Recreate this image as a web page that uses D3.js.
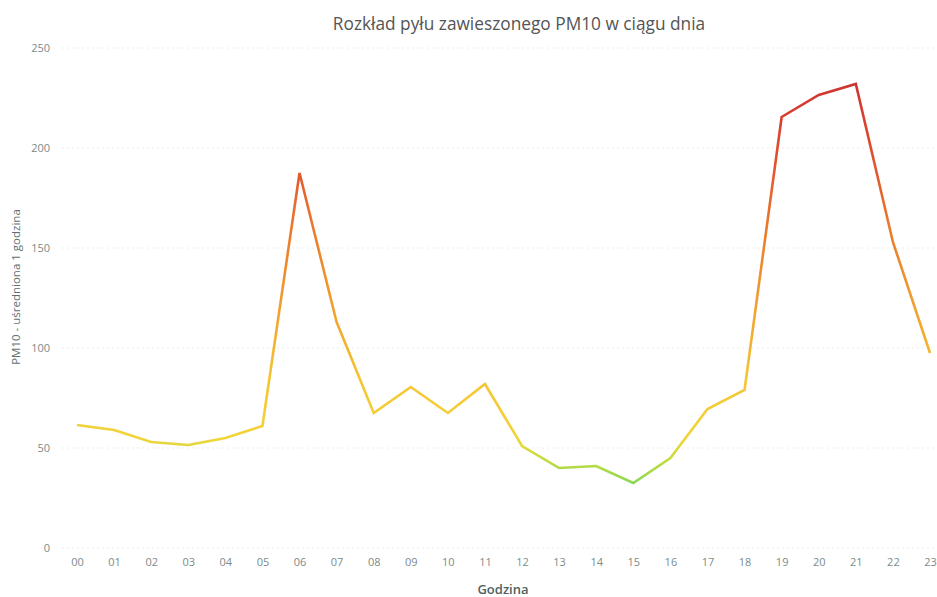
<!DOCTYPE html>
<html>
<head>
<meta charset="utf-8">
<script src="https://cdn.jsdelivr.net/npm/d3@7"></script>
<style>
    body { margin: 0; background: #fff; }
    text { font-family: "Open Sans", "Noto Sans", sans-serif; }
</style>
</head>
<body>
<div id="chart"></div>
<script>
// dane: godziny i średnie 1h PM10
var hours = ["00", "01", "02", "03", "04", "05", "06", "07", "08", "09", "10", "11",
             "12", "13", "14", "15", "16", "17", "18", "19", "20", "21", "22", "23"];
var pm10 = [61.5, 59, 53, 51.5, 55, 61, 187.5, 113, 67.5, 80.5, 67.5, 82,
            51, 40, 41, 32.5, 45, 69.5, 79, 215.5, 226.5, 232, 153, 97.5];
var yTicks = [0, 50, 100, 150, 200, 250];
// kolor linii zależny od wartości
var colorValues = [30, 45, 55, 85, 120, 160, 195, 235];
var colorList = ["#7fd65a", "#c8dc3c", "#f2d43a", "#f5c432", "#f0a030", "#ea7a2e", "#e0502e", "#cc3232"];

var width = 937, height = 597;

var svg = d3.select("#chart").append("svg")
    .attr("width", width)
    .attr("height", height);

var x = d3.scalePoint().domain(hours).range([77, 930]);
var y = d3.scaleLinear().domain([0, 250]).range([548, 48]);

// tytuł
svg.append("text")
    .attr("x", 519)
    .attr("y", 30)
    .attr("text-anchor", "middle")
    .attr("font-size", 17.3)
    .attr("fill", "#555")
    .text("Rozkład pyłu zawieszonego PM10 w ciągu dnia");

// siatka
svg.append("g")
    .selectAll("line")
    .data(yTicks)
    .enter().append("line")
    .attr("x1", 62)
    .attr("x2", 935)
    .attr("y1", function (d) { return y(d); })
    .attr("y2", function (d) { return y(d); })
    .attr("stroke", "#ececec")
    .attr("stroke-dasharray", "2,3");

// oś Y
var yAxis = svg.append("g")
    .attr("transform", "translate(50,0)")
    .call(d3.axisLeft(y).tickValues(yTicks).tickSize(0).tickPadding(0));
yAxis.select(".domain").remove();
yAxis.selectAll("text")
    .attr("font-size", 11)
    .attr("fill", "#7b8b8b")
    .style("font-family", "'Open Sans', sans-serif");

// oś X
var xAxis = svg.append("g")
    .attr("transform", "translate(0,558)")
    .call(d3.axisBottom(x).tickSize(0).tickPadding(0));
xAxis.select(".domain").remove();
xAxis.selectAll("text")
    .attr("font-size", 11)
    .attr("fill", "#7b8b8b")
    .attr("dy", "0.71em")
    .style("font-family", "'Open Sans', sans-serif");

// podpisy osi
svg.append("text")
    .attr("x", 503)
    .attr("y", 594)
    .attr("text-anchor", "middle")
    .attr("font-size", 13)
    .attr("font-weight", 600)
    .attr("fill", "#4f5f5f")
    .text("Godzina");

svg.append("text")
    .attr("transform", "translate(20,287) rotate(-90)")
    .attr("text-anchor", "middle")
    .attr("font-size", 11.5)
    .attr("fill", "#5f6f6f")
    .text("PM10 - uśredniona 1 godzina");

// gradient wg wartości
var grad = svg.append("defs").append("linearGradient")
    .attr("id", "lineGrad")
    .attr("gradientUnits", "userSpaceOnUse")
    .attr("x1", 0).attr("x2", 0)
    .attr("y1", y(0)).attr("y2", y(250));

grad.selectAll("stop")
    .data(colorValues)
    .enter().append("stop")
    .attr("offset", function (d) { return d / 250; })
    .attr("stop-color", function (d, i) { return colorList[i]; });

var line = d3.line()
    .x(function (d, i) { return x(hours[i]); })
    .y(function (d) { return y(d); });

svg.append("path")
    .datum(pm10)
    .attr("fill", "none")
    .attr("stroke", "url(#lineGrad)")
    .attr("stroke-width", 2.6)
    .attr("stroke-linejoin", "miter")
    .attr("d", line);
</script>
</body>
</html>
